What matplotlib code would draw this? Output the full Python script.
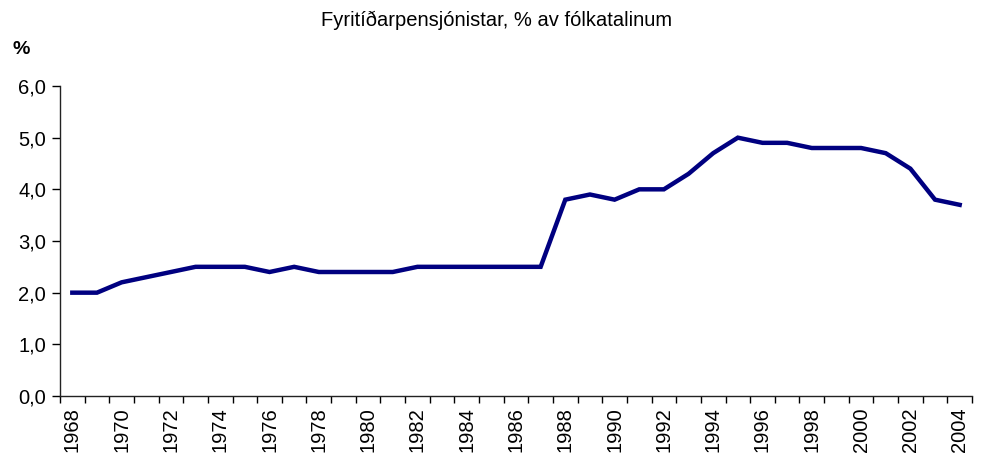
import numpy as np
import matplotlib
matplotlib.use("Agg")
from matplotlib import pyplot as plt

plt.rcParams["font.family"] = ["Liberation Sans", "DejaVu Sans"]

years = list(range(1968, 2005))
share = [2.0, 2.0, 2.2, 2.3, 2.4, 2.5, 2.5, 2.5, 2.4, 2.5,
         2.4, 2.4, 2.4, 2.4, 2.5, 2.5, 2.5, 2.5, 2.5, 2.5,
         3.8, 3.9, 3.8, 4.0, 4.0, 4.3, 4.7, 5.0, 4.9, 4.9,
         4.8, 4.8, 4.8, 4.7, 4.4, 3.8, 3.7]
y_ticks = [0, 1, 2, 3, 4, 5, 6]
y_labels = ["0,0", "1,0", "2,0", "3,0", "4,0", "5,0", "6,0"]

fig = plt.figure(figsize=(9.84, 4.59), dpi=100)
ax = fig.add_axes([60 / 984, 1 - 396 / 459, (972 - 60) / 984, (396 - 86) / 459])

x = np.arange(len(years))
ax.plot(x, share, color="#000080", lw=3.2, solid_joinstyle="miter")

ax.set_xlim(-0.5, len(years) - 0.5)
ax.set_ylim(0, 6)
ax.set_yticks(y_ticks)
ax.set_yticklabels(y_labels, fontsize=14.5)
ax.set_xticks(x[::2])
ax.set_xticklabels([str(y) for y in years[::2]], rotation=90, fontsize=14.5)
ax.set_xticks(np.arange(-0.5, len(years)), minor=True)
ax.tick_params(axis="x", which="major", length=0, pad=8)
ax.tick_params(axis="x", which="minor", length=5, width=1, color="black")
ax.tick_params(axis="y", length=6, width=1, pad=4)

for s in ["top", "right"]:
    ax.spines[s].set_visible(False)
for s in ["left", "bottom"]:
    ax.spines[s].set_color("#222222")
    ax.spines[s].set_linewidth(1)

fig.text(497 / 984, 1 - 20 / 459, "Fyritíðarpensjónistar, % av fólkatalinum",
         ha="center", va="center", fontsize=14.5)
fig.text(21 / 984, 1 - 50 / 459, "%", ha="center", va="center",
         fontsize=14, fontweight="bold")

fig.savefig("out.png", dpi=100)
